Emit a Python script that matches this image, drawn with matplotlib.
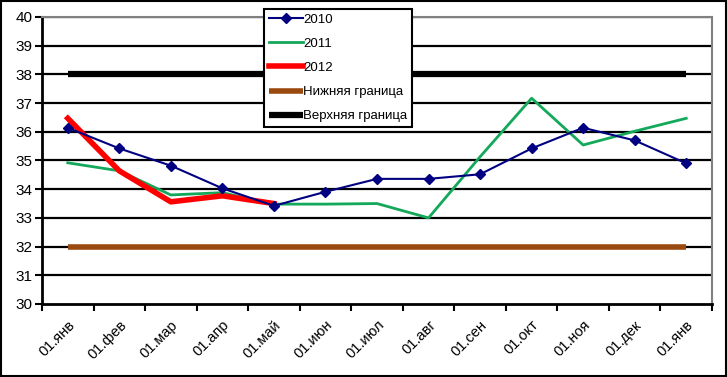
import matplotlib
matplotlib.use('Agg')
import matplotlib.pyplot as plt
from matplotlib.patches import Rectangle

plt.rcParams['font.family'] = ['Liberation Sans', 'DejaVu Sans']

months = ['01.янв', '01.фев', '01.мар', '01.апр', '01.май', '01.июн', '01.июл',
          '01.авг', '01.сен', '01.окт', '01.ноя', '01.дек', '01.янв']

y2010 = [36.14, 35.42, 34.82, 34.03, 33.42, 33.91, 34.36, 34.36, 34.52, 35.42, 36.14, 35.70, 34.90]
y2011 = [34.92, 34.64, 33.80, 33.88, 33.48, 33.48, 33.50, 33.00, 35.13, 37.17, 35.54, 36.02, 36.47]
y2012 = [36.47, 34.64, 33.56, 33.77, 33.50]
lower = [32] * len(months)
upper = [38] * len(months)

x = list(range(len(months)))

fig = plt.figure(figsize=(7.27, 3.77), dpi=100)
ax = fig.add_axes([42/727, 1-304/377, 670/727, 287/377])

# horizontal grid
for v in range(31, 41):
    ax.axhline(v, color='black', lw=1.6, zorder=1)

ax.plot(x, lower, color='#9A4A0E', lw=4, solid_capstyle='butt', label='Нижняя граница', zorder=2)
ax.plot(x, upper, color='black', lw=4.5, solid_capstyle='butt', label='Верхняя граница', zorder=2)
ax.plot(x, y2011, color='#13A85A', lw=2, label='2011', zorder=3)
ax.plot(x[:len(y2012)], y2012, color='red', lw=4, label='2012', zorder=4)
ax.plot(x, y2010, color='#000080', lw=1.5, marker='D', markersize=5, label='2010', zorder=5)

ax.set_xlim(-0.5, 12.5)
ax.set_ylim(30, 40)
ax.set_yticks(range(30, 41))
ax.set_yticklabels([str(v) for v in range(30, 41)], fontsize=11)
ax.set_xticks(x)
ax.set_xticklabels(months, fontsize=10.5, rotation=45, ha='right', va='top', rotation_mode='anchor')
ax.set_xticks([i - 0.5 for i in range(14)], minor=True)
ax.tick_params(axis='x', which='major', length=0, pad=10)
ax.tick_params(axis='x', which='minor', length=5, width=1.5, direction='out')
ax.tick_params(axis='y', length=5, width=1.5, direction='out', pad=2)

ax.spines['left'].set_linewidth(2)
ax.spines['bottom'].set_linewidth(2)
ax.spines['top'].set_color('#808080')
ax.spines['right'].set_color('#808080')
ax.spines['top'].set_linewidth(1.5)
ax.spines['right'].set_linewidth(1.5)

h, l = ax.get_legend_handles_labels()
order = [4, 2, 3, 0, 1]
leg = ax.legend([h[i] for i in order], [l[i] for i in order],
                loc='upper left', bbox_to_anchor=(264/727, 1-9/377),
                bbox_transform=fig.transFigure, fontsize=9.5, fancybox=False,
                framealpha=1, edgecolor='black', handlelength=2.6,
                handletextpad=0.0, labelspacing=0.9, borderpad=0.35,
                borderaxespad=0)
leg.get_frame().set_linewidth(1.5)
leg.set_zorder(10)

fig.patches.append(Rectangle((0.002, 0.003), 0.996, 0.994, transform=fig.transFigure,
                             fill=False, edgecolor='black', lw=1.5))

fig.savefig('out.png', dpi=100)
